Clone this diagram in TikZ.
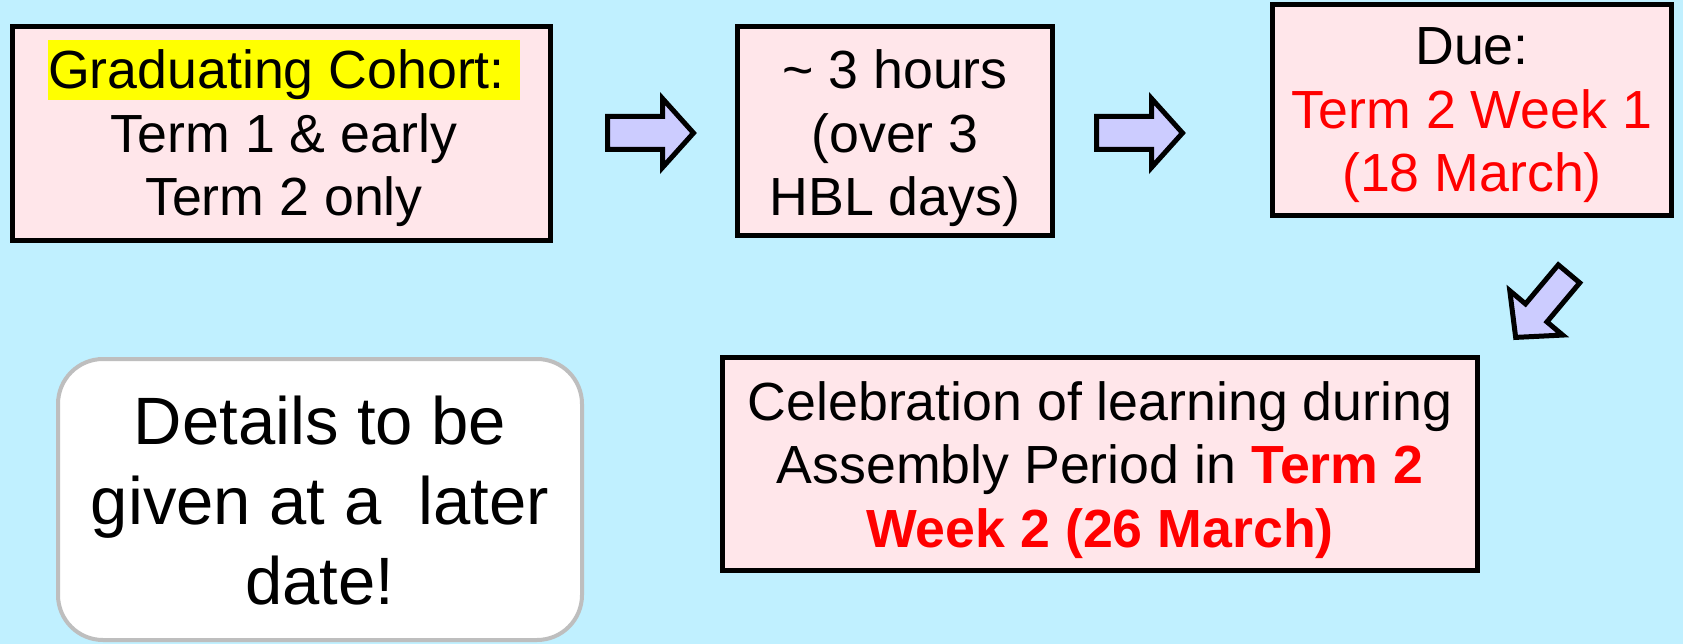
\documentclass[tikz,border=0pt]{standalone}
\usepackage{fontspec}
\setmainfont{Liberation Sans}
\usepackage{xcolor}
\definecolor{bg}{RGB}{192,240,255}
\definecolor{boxfill}{RGB}{255,230,234}
\definecolor{arrowfill}{RGB}{204,204,255}
\definecolor{roundgray}{RGB}{190,190,190}
\definecolor{hired}{RGB}{255,0,0}
\definecolor{hiyellow}{RGB}{255,255,0}
\setlength{\fboxsep}{0pt}
\tikzset{
  stepbox/.style={draw=black, line width=5pt, fill=boxfill, rectangle, inner sep=0pt, outer sep=0pt},
  txt/.style={inner sep=0pt, outer sep=0pt, align=center, font=\fontsize{53.7}{63.6}\selectfont},
  bigtxt/.style={inner sep=0pt, outer sep=0pt, align=center, font=\fontsize{67}{80}\selectfont},
  notebox/.style={draw=roundgray, line width=4pt, fill=white, rounded corners=45pt, rectangle, inner sep=0pt, outer sep=0pt},
  blockarrow/.style={draw=black, line width=5pt, fill=arrowfill, line join=miter},
}
\begin{document}
\begin{tikzpicture}[x=1pt,y=-1pt]
\fill[bg] (0,0) rectangle (1683,644);
\useasboundingbox (0,0) rectangle (1683,644);

% boxes
\node[stepbox, minimum width=538pt, minimum height=214pt] (b1) at (281.5,133.5) {};
\node[txt] (t1) at (284,133.5) {\colorbox{hiyellow}{\rule[-0.21em]{0pt}{1.115em}Graduating Cohort:\ }\\Term 1 \& early\\Term 2 only};

\node[stepbox, minimum width=315pt, minimum height=209pt] (b2) at (895,131) {};
\node[txt] (t2) at (895,138.2) {\textasciitilde{} 3 hours\\(over 3\\HBL days)};

\node[stepbox, minimum width=399pt, minimum height=211pt] (b3) at (1472,110) {};
\node[txt] (t3) at (1472,115.2) {Due:\\\textcolor{hired}{Term 2 Week 1}\\\textcolor{hired}{(18 March)}};

\node[stepbox, minimum width=755pt, minimum height=213pt] (b4) at (1100,464) {};
\node[txt] (t4) at (1100,469.9) {Celebration of learning during\\Assembly Period in \textbf{\textcolor{hired}{Term 2}}\\\textbf{\textcolor{hired}{Week 2 (26 March)}}};

\node[notebox, minimum width=524pt, minimum height=281pt] (n1) at (320,499.5) {};
\node[bigtxt] (t5) at (320,501) {Details to be\\given at a\ \ later\\date!};

% block arrows
\coordinate (a1) at (651,133);
\coordinate (a2) at (1140,133);
\coordinate (a3) at (1542,306);
\draw[blockarrow, shift={(a1)}] (-43.5,-16.5) -- (11.5,-16.5) -- (11.5,-34.5) -- (42.5,0) -- (11.5,34.5) -- (11.5,16.5) -- (-43.5,16.5) -- cycle;
\draw[blockarrow, shift={(a2)}] (-43.5,-16.5) -- (11.5,-16.5) -- (11.5,-34.5) -- (42.5,0) -- (11.5,34.5) -- (11.5,16.5) -- (-43.5,16.5) -- cycle;
\draw[blockarrow, shift={(a3)}, rotate=230] (-42,-14) -- (9,-14) -- (9,-34.5) -- (41,0) -- (9,34.5) -- (9,14) -- (-42,14) -- cycle;
\end{tikzpicture}
\end{document}
